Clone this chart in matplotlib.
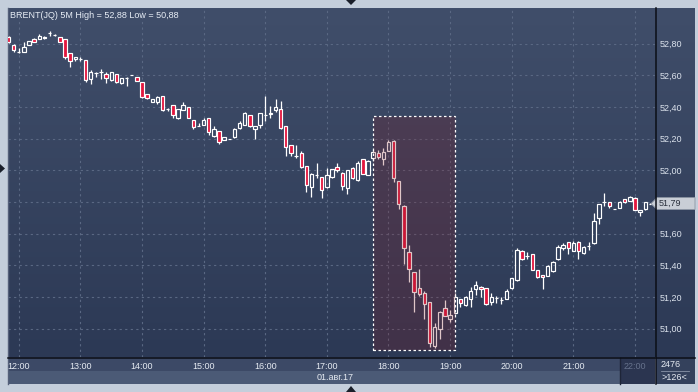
import matplotlib
matplotlib.use("Agg")
import matplotlib.pyplot as plt
import numpy as np
from matplotlib.patches import Rectangle, Polygon
from matplotlib.colors import LinearSegmentedColormap

plt.rcParams['font.family'] = ['Liberation Sans', 'DejaVu Sans']

symbol = "BRENT(JQ)"
period = "5M"
date_label = "01.авг.17"
total_bars = 2476
hour_labels = ["12:00", "13:00", "14:00", "15:00", "16:00", "17:00",
               "18:00", "19:00", "20:00", "21:00", "22:00"]
first_hour_bar = 2          # bars start at 11:50, 5 minutes each
bars_per_hour = 12

# 5-minute OHLC bars
opens = [52.839, 52.791, 52.744, 52.744, 52.789, 52.828, 52.826, 52.837, 52.866, 52.852,
         52.839, 52.826, 52.738, 52.700, 52.702, 52.696, 52.576, 52.612, 52.622, 52.606,
         52.568, 52.606, 52.549, 52.580, 52.601, 52.587, 52.555, 52.481, 52.433, 52.433,
         52.469, 52.387, 52.412, 52.332, 52.379, 52.397, 52.317, 52.280, 52.284, 52.330,
         52.215, 52.246, 52.191, 52.197, 52.208, 52.265, 52.286, 52.347, 52.263, 52.286,
         52.347, 52.358, 52.382, 52.387, 52.278, 52.158, 52.092, 52.109, 52.025, 51.897,
         51.970, 51.956, 51.897, 51.956, 52.019, 51.985, 51.886, 52.013, 51.939, 52.069,
         51.970, 52.076, 52.107, 52.071, 52.124, 52.187, 51.934, 51.777, 51.486, 51.357,
         51.256, 51.224, 51.167, 50.892, 50.997, 51.129, 51.062, 51.098, 51.186, 51.150,
         51.186, 51.249, 51.266, 51.256, 51.167, 51.192, 51.180, 51.188, 51.256, 51.308,
         51.491, 51.459, 51.470, 51.371, 51.339, 51.335, 51.367, 51.440, 51.508, 51.546,
         51.493, 51.546, 51.476, 51.524, 51.539, 51.697, 51.802, 51.798, 51.756, 51.764,
         51.817, 51.806, 51.827, 51.735, 51.754, 51.788]
highs = [52.845, 52.795, 52.774, 52.811, 52.816, 52.835, 52.858, 52.847, 52.880, 52.858,
         52.840, 52.826, 52.740, 52.717, 52.717, 52.696, 52.633, 52.618, 52.639, 52.622,
         52.620, 52.608, 52.582, 52.591, 52.603, 52.590, 52.557, 52.483, 52.452, 52.471,
         52.470, 52.393, 52.414, 52.387, 52.429, 52.400, 52.318, 52.297, 52.332, 52.332,
         52.281, 52.248, 52.210, 52.200, 52.265, 52.313, 52.370, 52.350, 52.282, 52.362,
         52.469, 52.406, 52.448, 52.437, 52.280, 52.160, 52.160, 52.122, 52.027, 51.980,
         52.044, 51.958, 52.013, 52.010, 52.044, 51.987, 52.005, 52.019, 52.059, 52.070,
         52.063, 52.130, 52.128, 52.139, 52.191, 52.191, 51.935, 51.780, 51.529, 51.360,
         51.377, 51.240, 51.170, 51.035, 51.110, 51.182, 51.119, 51.228, 51.190, 51.210,
         51.264, 51.302, 51.270, 51.260, 51.224, 51.207, 51.199, 51.251, 51.320, 51.512,
         51.495, 51.487, 51.472, 51.372, 51.340, 51.404, 51.430, 51.529, 51.539, 51.550,
         51.554, 51.556, 51.520, 51.550, 51.729, 51.790, 51.855, 51.800, 51.757, 51.805,
         51.820, 51.835, 51.830, 51.752, 51.800, 51.792]
lows = [52.805, 52.744, 52.741, 52.744, 52.789, 52.810, 52.826, 52.826, 52.849, 52.845,
        52.810, 52.704, 52.654, 52.688, 52.688, 52.555, 52.546, 52.591, 52.576, 52.549,
        52.565, 52.552, 52.543, 52.534, 52.600, 52.562, 52.454, 52.448, 52.431, 52.416,
        52.377, 52.377, 52.332, 52.325, 52.379, 52.330, 52.259, 52.278, 52.283, 52.223,
        52.213, 52.164, 52.190, 52.196, 52.205, 52.263, 52.283, 52.275, 52.196, 52.265,
        52.311, 52.328, 52.370, 52.262, 52.090, 52.090, 52.076, 52.015, 51.861, 51.830,
        51.950, 51.827, 51.890, 51.950, 51.987, 51.876, 51.849, 51.945, 51.935, 51.975,
        51.968, 52.059, 52.069, 52.033, 52.124, 51.924, 51.754, 51.407, 51.297, 51.104,
        51.210, 51.060, 50.887, 50.880, 50.934, 51.078, 51.045, 51.095, 51.139, 51.145,
        51.140, 51.213, 51.203, 51.150, 51.150, 51.161, 51.155, 51.185, 51.250, 51.300,
        51.435, 51.440, 51.370, 51.323, 51.249, 51.333, 51.360, 51.437, 51.497, 51.470,
        51.490, 51.440, 51.470, 51.497, 51.535, 51.659, 51.777, 51.764, 51.755, 51.762,
        51.795, 51.805, 51.748, 51.714, 51.752, 51.788]
closes = [52.808, 52.759, 52.744, 52.776, 52.816, 52.811, 52.847, 52.837, 52.866, 52.856,
          52.811, 52.717, 52.691, 52.717, 52.702, 52.568, 52.622, 52.616, 52.622, 52.584,
          52.618, 52.555, 52.580, 52.580, 52.601, 52.565, 52.464, 52.454, 52.450, 52.461,
          52.379, 52.387, 52.349, 52.385, 52.412, 52.332, 52.275, 52.282, 52.319, 52.240,
          52.262, 52.177, 52.208, 52.198, 52.261, 52.298, 52.360, 52.278, 52.280, 52.360,
          52.347, 52.362, 52.397, 52.265, 52.145, 52.107, 52.092, 52.019, 51.907, 51.975,
          51.970, 51.876, 51.970, 52.006, 52.002, 51.901, 52.002, 51.950, 52.044, 51.977,
          52.061, 52.117, 52.086, 52.117, 52.177, 51.950, 51.785, 51.508, 51.375, 51.234,
          51.218, 51.155, 50.909, 51.010, 51.108, 51.081, 51.087, 51.199, 51.165, 51.199,
          51.239, 51.274, 51.249, 51.155, 51.203, 51.192, 51.183, 51.239, 51.319, 51.497,
          51.440, 51.459, 51.373, 51.325, 51.325, 51.394, 51.423, 51.514, 51.529, 51.508,
          51.539, 51.491, 51.516, 51.524, 51.682, 51.786, 51.802, 51.777, 51.756, 51.802,
          51.798, 51.833, 51.750, 51.750, 51.798, 51.790]

# highlighted zone: bar index range and price range
zone_bars = [71, 87]
zone_prices = [50.866, 52.343]

price_ticks = [51.0, 51.2, 51.4, 51.6, 51.8, 52.0, 52.2, 52.4, 52.6, 52.8]
ylim = (50.822, 53.024)
xlim = (-0.1, 125.9)


def fmt(v):
    return f"{v:.2f}".replace('.', ',')


W, H = 698, 392
fig = plt.figure(figsize=(W / 100, H / 100), dpi=100, facecolor='#c4cedb')

# background layer in pixel coords
bg = fig.add_axes([0, 0, 1, 1])
bg.set_xlim(0, W)
bg.set_ylim(H, 0)
bg.axis('off')
cmap = LinearSegmentedColormap.from_list('bg', ['#404e6a', '#2c3955'])
grad = np.linspace(0, 1, 256).reshape(-1, 1)
bg.imshow(grad, extent=[8, 695, 357, 8], cmap=cmap, aspect='auto', zorder=0)
bg.add_patch(Rectangle((8, 357), 647, 14, fc='#3c4966', ec='none', zorder=1))
bg.add_patch(Rectangle((8, 371), 647, 13, fc='#4b5a76', ec='none', zorder=1))
bg.add_patch(Rectangle((620, 357), 35, 27, fc='#2b3550', ec='none', zorder=2))
bg.plot([620, 620], [358, 384], color='#1e2538', lw=1, zorder=3)
bg.add_patch(Rectangle((656, 357), 39, 27, fc='#34415c', ec='none', zorder=1))
bg.plot([7.5, 7.5], [8, 384], color='#55607a', lw=1, zorder=3)

# chart axes
ax = fig.add_axes([8 / W, (H - 357) / H, 647 / W, 349 / H])
ax.set_facecolor('none')
ax.set_xlim(*xlim)
ax.set_ylim(*ylim)
for s in ax.spines.values():
    s.set_visible(False)

ax.yaxis.tick_right()
ax.set_yticks(price_ticks)
ax.set_yticklabels([fmt(v) for v in price_ticks])
ax.tick_params(axis='y', length=0, pad=3, labelsize=6.5, labelcolor='#dbe2ec')
hour_pos = [first_hour_bar + bars_per_hour * k for k in range(len(hour_labels))]
ax.set_xticks(hour_pos)
ax.set_xticklabels(hour_labels)
ax.tick_params(axis='x', length=0, pad=3.5, labelsize=6.5, labelcolor='#e6ebf2')
ax.get_xticklabels()[-1].set_color('#66728c')
ax.grid(True, color='#5a6883', linestyle=(0, (2, 3)), lw=0.8)
ax.set_axisbelow(True)

o = np.array(opens)
h = np.array(highs)
l = np.array(lows)
c = np.array(closes)
x = np.arange(len(o))
top = np.maximum(o, c)
bot = np.minimum(o, c)

ax.vlines(x, top, h, color='white', lw=0.9, zorder=2)
ax.vlines(x, l, bot, color='white', lw=0.9, zorder=2)
down = c < o - 0.003
face = ['#e3173e' if d else 'none' for d in down]
ax.bar(x, np.maximum(top - bot, 0.001), bottom=bot, width=0.66,
       color=face, edgecolor='white', linewidth=0.85, zorder=3)

ax.add_patch(Rectangle((zone_bars[0], zone_prices[0]), zone_bars[1] - zone_bars[0],
                       zone_prices[1] - zone_prices[0],
                       facecolor=(0.50, 0.11, 0.14, 0.25), edgecolor='white',
                       linestyle=(0, (2, 2)), lw=0.9, zorder=5))

# foreground decorations
fg = fig.add_axes([0, 0, 1, 1])
fg.set_xlim(0, W)
fg.set_ylim(H, 0)
fg.axis('off')
fg.plot([655.5, 655.5], [8, 384], color='#0b0e16', lw=1.1)
fg.plot([8, 695], [357.5, 357.5], color='#0b0e16', lw=1.1)

last = closes[-1]
yp = 8 + (ylim[1] - last) / (ylim[1] - ylim[0]) * 349
fg.add_patch(Polygon([(651, yp), (657, yp - 6), (695, yp - 6), (695, yp + 6), (657, yp + 6)],
                     closed=True, fc='#c9ced6', ec='#8c95a3', lw=0.6))
fg.text(659, yp, fmt(last), color='#2a303c', fontsize=6.5, va='center', ha='left')

fg.add_patch(Polygon([(346, 0), (356, 0), (351, 5)], closed=True, fc='#1a1f2a', ec='none'))
fg.add_patch(Polygon([(346, 392), (356, 392), (351, 386)], closed=True, fc='#1a1f2a', ec='none'))
fg.add_patch(Polygon([(0, 164), (0, 173), (5, 168.5)], closed=True, fc='#1a1f2a', ec='none'))

fg.text(10, 15, f"{symbol} {period} High = {fmt(max(highs))} Low = {fmt(min(lows))}",
        color='#e8eef6', fontsize=6.5, va='center', ha='left')
fg.text(335, 377, date_label, color='#e6ebf2', fontsize=6.5, va='center', ha='center')
fg.text(671, 364.5, str(total_bars), color='#e6ebf2', fontsize=6.5, va='center', ha='center')
fg.plot([661, 689], [371, 371], color='#8994a8', lw=0.6)
fg.text(674, 378, f">{len(opens)}<", color='#e6ebf2', fontsize=6.5, va='center', ha='center')

fig.savefig('out.png', dpi=100, facecolor=fig.get_facecolor())
